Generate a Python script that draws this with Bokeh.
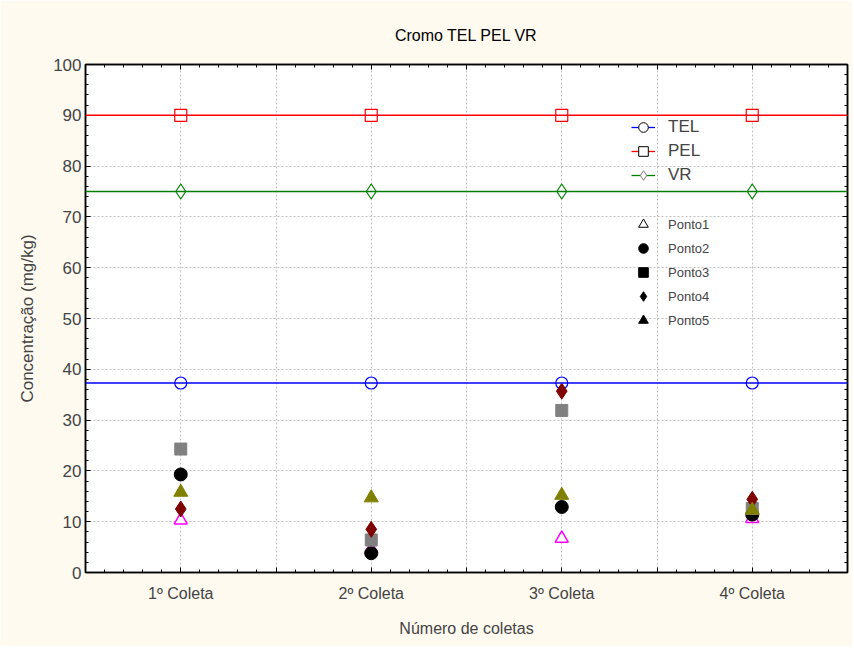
from bokeh.plotting import figure
from bokeh.models import (LinearAxis, FixedTicker, Range1d, Span, Legend, LegendItem, Title, Grid,
                          CustomLabelingPolicy)
from bokeh.embed import file_html
from bokeh.resources import INLINE

# ---- data ----
categories = ["1º Coleta", "2º Coleta", "3º Coleta", "4º Coleta"]
xpos = [1, 2, 3, 4]
ponto1 = [10.3, 4.6, 6.7, 10.6]
ponto2 = [19.3, 3.8, 12.9, 11.4]
ponto3 = [24.3, 6.4, 31.9, 12.6]
ponto4 = [12.5, 8.5, 35.7, 14.4]
ponto5 = [15.8, 14.7, 15.2, 12.3]
tel = 37.3
pel = 90.0
vr = 75.0
y_ticks = [0, 10, 20, 30, 40, 50, 60, 70, 80, 90, 100]

FONT = "'Liberation Sans', Arial, sans-serif"
CREAM = "#fffaf0"
NAN = float("nan")

X0, X1 = 0.5, 4.5
Y0, Y1 = 0, 100

p = figure(width=852, height=646, output_backend="svg", toolbar_location=None,
           x_range=Range1d(X0, X1), y_range=Range1d(Y0, Y1),
           min_border_left=85, min_border_right=5, min_border_top=64, min_border_bottom=74,
           x_axis_type=None, y_axis_type=None)
p.border_fill_color = CREAM
p.background_fill_color = "white"
p.outline_line_color = "black"
p.outline_line_width = 1.5

p.title = Title(text="Cromo TEL PEL VR", align="center", text_font=FONT,
                text_font_size="16px", text_font_style="normal", text_color="black",
                offset=0, standoff=34)

x_major = [X0 + 0.5 * i for i in range(9)]
x_minor = [round(X0 + 0.1 * i, 2) for i in range(41)]
y_minor = [2 * i for i in range(51)]

overrides = {t: "" for t in x_major}
for xv, lab in zip(xpos, categories):
    overrides[float(xv)] = lab

def style_axis(ax):
    ax.axis_line_color = "black"
    ax.axis_line_width = 1.5
    ax.major_tick_in = 5
    ax.major_tick_out = 0
    ax.minor_tick_in = 3
    ax.minor_tick_out = 0
    ax.major_tick_line_color = "black"
    ax.minor_tick_line_color = "black"

def mirror_axis(ticks, minor):
    ax = LinearAxis(ticker=FixedTicker(ticks=ticks, minor_ticks=minor))
    style_axis(ax)
    ax.major_label_text_font_size = "1px"
    ax.major_label_standoff = 0
    ax.major_label_policy = CustomLabelingPolicy(
        code="const r = indices.clone(); for (const i of indices) r.unset(i); return r")
    return ax

xb = LinearAxis(ticker=FixedTicker(ticks=x_major, minor_ticks=x_minor))
xb.major_label_overrides = overrides
xb.major_label_text_font = FONT
xb.major_label_text_font_size = "16px"
xb.major_label_standoff = 12
xb.axis_label = "Número de coletas"
xb.axis_label_text_font = FONT
xb.axis_label_text_font_size = "16px"
xb.axis_label_text_font_style = "normal"
xb.axis_label_standoff = 15
style_axis(xb)
p.add_layout(xb, "below")

yl = LinearAxis(ticker=FixedTicker(ticks=y_ticks, minor_ticks=y_minor))
yl.major_label_text_font = FONT
yl.major_label_text_font_size = "17px"
yl.major_label_standoff = 4
yl.axis_label = "Concentração (mg/kg)"
yl.axis_label_text_font = FONT
yl.axis_label_text_font_size = "17px"
yl.axis_label_text_font_style = "normal"
yl.axis_label_standoff = 13
style_axis(yl)
p.add_layout(yl, "left")

p.add_layout(mirror_axis(x_major, x_minor), "above")
p.add_layout(mirror_axis(y_ticks, y_minor), "right")

# grid
p.add_layout(Grid(dimension=0, ticker=xb.ticker, grid_line_color="#c0c0c0",
                  grid_line_dash="2 2", grid_line_width=1))
p.add_layout(Grid(dimension=1, ticker=yl.ticker, grid_line_color="#c0c0c0",
                  grid_line_dash="2 2", grid_line_width=1))

# reference lines
for val, col in [(tel, "#0000ff"), (pel, "#ff0000"), (vr, "#008000")]:
    p.add_layout(Span(location=val, dimension="width", line_color=col, line_width=1.5))

p.scatter(xpos, [tel] * 4, marker="circle", size=12, fill_color="white",
          line_color="#0000ff", line_width=1.2)
p.scatter(xpos, [pel] * 4, marker="square", size=12, fill_color="white",
          line_color="#ff0000", line_width=1.2)
p.scatter(xpos, [vr] * 4, marker="diamond", size=15, fill_color="white",
          line_color="#008000", line_width=1.2)

# points
p.scatter(xpos, ponto1, marker="triangle", size=13, fill_color="white",
          line_color="#ff00ff", line_width=1.5)
p.scatter(xpos, ponto2, marker="circle", size=13, fill_color="black", line_color="black")
p.scatter(xpos, ponto3, marker="square", size=12, fill_color="#808080", line_color="#808080")
p.scatter(xpos, ponto4, marker="diamond", size=16, fill_color="#800000", line_color="#800000")
p.scatter(xpos, ponto5, marker="triangle", size=14, fill_color="#808000", line_color="#808000")

# legend-only renderers
def dline(col):
    return p.line([NAN], [NAN], line_color=col, line_width=1.3)

def dmark(marker, size, fill, line):
    return p.scatter([NAN], [NAN], marker=marker, size=size, fill_color=fill, line_color=line)

items1 = [
    LegendItem(label="TEL", renderers=[dline("#0000ff"), dmark("circle", 9, "white", "black")]),
    LegendItem(label="PEL", renderers=[dline("#ff0000"), dmark("square", 9, "white", "black")]),
    LegendItem(label="VR", renderers=[dline("#008000"), dmark("diamond", 10, "white", "#808080")]),
]
items2 = [
    LegendItem(label="Ponto1", renderers=[dmark("triangle", 8, "white", "black")]),
    LegendItem(label="Ponto2", renderers=[dmark("circle", 9, "black", "black")]),
    LegendItem(label="Ponto3", renderers=[dmark("square", 9, "black", "black")]),
    LegendItem(label="Ponto4", renderers=[dmark("diamond", 10, "black", "black")]),
    LegendItem(label="Ponto5", renderers=[dmark("triangle", 9, "black", "black")]),
]

def make_legend(items, loc, fs, h):
    return Legend(items=items, location=loc, padding=0, margin=0, spacing=0,
                  label_height=h, glyph_height=h, glyph_width=24, label_standoff=13,
                  label_text_font=FONT, label_text_font_size=fs,
                  background_fill_alpha=0, border_line_alpha=0)

p.add_layout(make_legend(items1, (546, 385), "17px", 24))
p.add_layout(make_legend(items2, (546, 240), "13px", 24))

open("out.html", "w").write(file_html(p, INLINE))
